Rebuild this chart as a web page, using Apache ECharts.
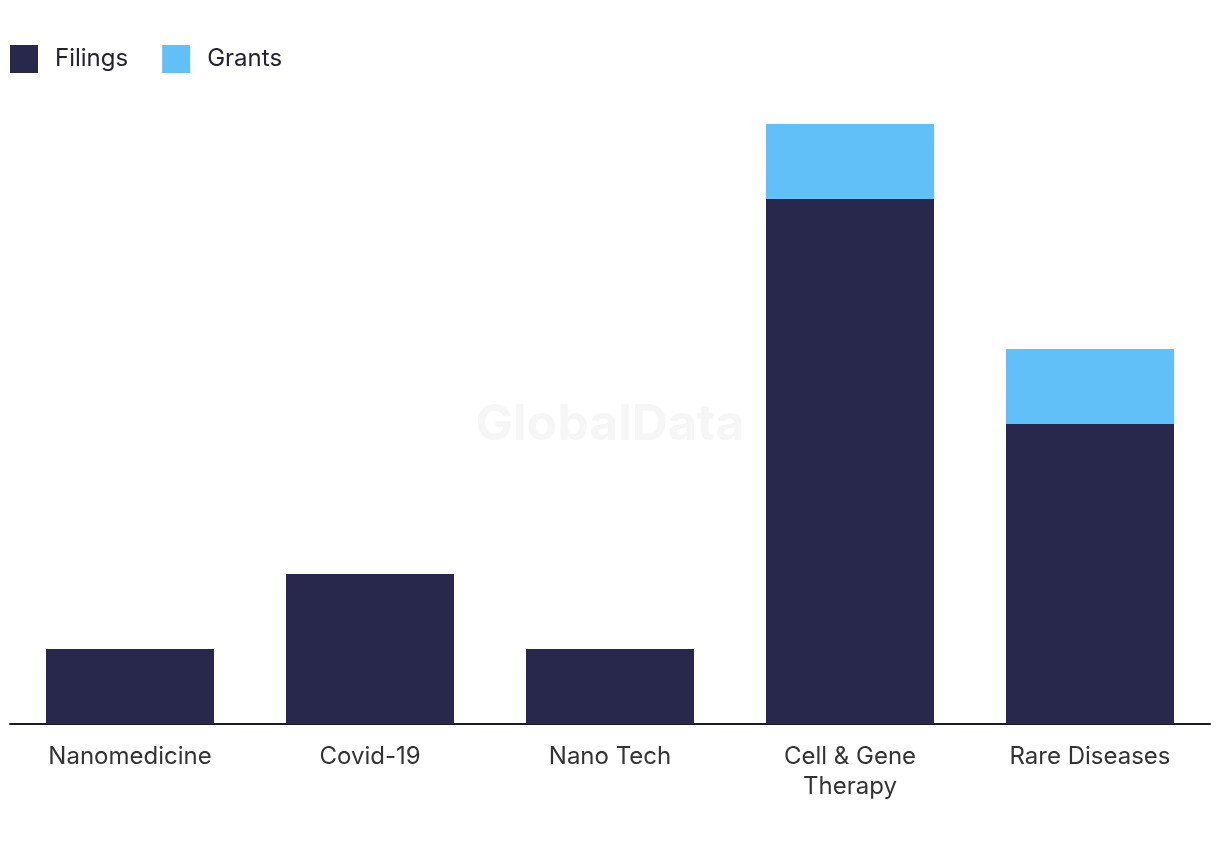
<!DOCTYPE html>
<html>
<head>
<meta charset="utf-8">
<style>
html,body{margin:0;padding:0;background:#fff;}
#chart{width:1220px;height:850px;}
</style>
<script src="https://cdn.jsdelivr.net/npm/echarts@6/dist/echarts.min.js"></script>
</head>
<body>
<div id="chart"></div>
<script>
const categories = ['Nanomedicine', 'Covid-19', 'Nano Tech', 'Cell & Gene\nTherapy', 'Rare Diseases'];
const filings = [1, 2, 1, 7, 4];
const grants = [0, 0, 0, 1, 1];

const chart = echarts.init(document.getElementById('chart'));
chart.setOption({
  animation: false,
  textStyle: { fontFamily: 'Inter, Roboto, sans-serif' },
  graphic: [{
    type: 'text',
    left: 'center',
    top: 400,
    z: 0,
    style: { text: 'GlobalData', fontSize: 50, fontWeight: 'bold', fill: '#f6f6f6', fontFamily: 'Inter, Roboto, sans-serif' }
  }],
  legend: {
    left: 5,
    top: 40,
    itemWidth: 28,
    itemHeight: 28,
    itemGap: 34,
    icon: 'rect',
    textStyle: { fontSize: 24, color: '#222233', padding: [0, 0, 0, 12] },
    data: ['Filings', 'Grants']
  },
  grid: { left: 10, right: 10, top: 124, bottom: 126, containLabel: false },
  xAxis: {
    type: 'category',
    data: categories,
    axisLine: { lineStyle: { color: '#1a1a2a', width: 2 } },
    axisTick: { show: false },
    axisLabel: { fontSize: 24, color: '#333333', margin: 18, lineHeight: 30 }
  },
  yAxis: {
    type: 'value',
    min: 0,
    max: 8,
    show: false,
    splitLine: { show: false }
  },
  series: [
    { name: 'Filings', type: 'bar', stack: 'total', data: filings, barWidth: '70%', itemStyle: { color: '#27284b' }, z: 2 },
    { name: 'Grants', type: 'bar', stack: 'total', data: grants, barWidth: '70%', itemStyle: { color: '#62c0f8' }, z: 2 }
  ]
});
</script>
</body>
</html>
